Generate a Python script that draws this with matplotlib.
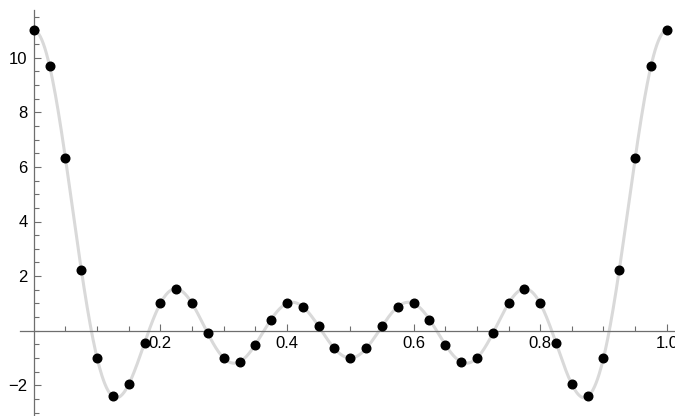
import numpy as np
import matplotlib
matplotlib.use("Agg")
import matplotlib.pyplot as plt
from matplotlib.ticker import FixedLocator

# sampled points at x = n/40
X_PTS = [i / 40 for i in range(41)]
Y_PTS = [11.0, 9.69, 6.31, 2.24, -1.0, -2.41, -1.96, -0.45, 1.0, 1.54, 1.0,
         -0.10, -1.0, -1.14, -0.51, 0.41, 1.0, 0.88, 0.16, -0.65, -1.0,
         -0.65, 0.16, 0.88, 1.0, 0.41, -0.51, -1.14, -1.0, -0.10, 1.0,
         1.54, 1.0, -0.45, -1.96, -2.41, -1.0, 2.24, 6.31, 9.69, 11.0]

# the smooth curve is a cosine sum; weights of harmonics 0..5
HARMONIC_WEIGHTS = [1, 2, 2, 2, 2, 2]

XTICKS = [0.2, 0.4, 0.6, 0.8, 1.0]
XTICK_LABELS = ["0.2", "0.4", "0.6", "0.8", "1.0"]
YTICKS = [-2, 2, 4, 6, 8, 10]
YTICK_LABELS = ["\u22122", "2", "4", "6", "8", "10"]

plt.rcParams["font.family"] = ["Liberation Sans", "DejaVu Sans"]

xs = np.linspace(0, 1, 1200)
curve = sum(w * np.cos(2 * np.pi * k * xs) for k, w in enumerate(HARMONIC_WEIGHTS))

fig = plt.figure(figsize=(6.75, 4.16), dpi=100)
ax = fig.add_axes([0, 0, 1, 1])

px_per_x = 633.0
px_per_y = 27.3
x0_px, y0_px = 33.8, 330.7
xlo, xhi = -x0_px / px_per_x, (675 - x0_px) / px_per_x
ylo, yhi = -(416 - y0_px) / px_per_y, y0_px / px_per_y
ax.set_xlim(xlo, xhi)
ax.set_ylim(ylo, yhi)

ax.plot(xs, curve, color="#d9d9d9", lw=2.2, zorder=2, clip_on=False)
ax.plot(X_PTS, Y_PTS, "o", color="black", ms=6.2, zorder=3, clip_on=False)

axcol = "#6e6e6e"
for side in ["top", "right"]:
    ax.spines[side].set_visible(False)
ax.spines["left"].set_position(("data", 0))
ax.spines["bottom"].set_position(("data", 0))
ax.spines["left"].set_bounds(ylo, (y0_px - 10) / px_per_y)
ax.spines["bottom"].set_bounds(-(x0_px - 20) / px_per_x, xhi)
for side in ["left", "bottom"]:
    ax.spines[side].set_color(axcol)
    ax.spines[side].set_linewidth(0.9)

ax.xaxis.set_major_locator(FixedLocator(XTICKS))
ax.set_xticklabels(XTICK_LABELS)
ax.xaxis.set_minor_locator(FixedLocator(np.arange(0.05, 1.0, 0.05)))
ax.yaxis.set_major_locator(FixedLocator(YTICKS))
ax.set_yticklabels(YTICK_LABELS)
ax.yaxis.set_minor_locator(FixedLocator(np.arange(-3.0, 11.6, 0.5)))

ax.tick_params(which="both", direction="in", color=axcol, width=0.8,
               labelsize=12, labelcolor="black")
ax.tick_params(which="major", length=5.2)
ax.tick_params(which="minor", length=3.3)
ax.tick_params(axis="x", which="major", pad=3.5)
ax.tick_params(axis="y", which="major", pad=4.5)

fig.savefig("out.png", dpi=100)
